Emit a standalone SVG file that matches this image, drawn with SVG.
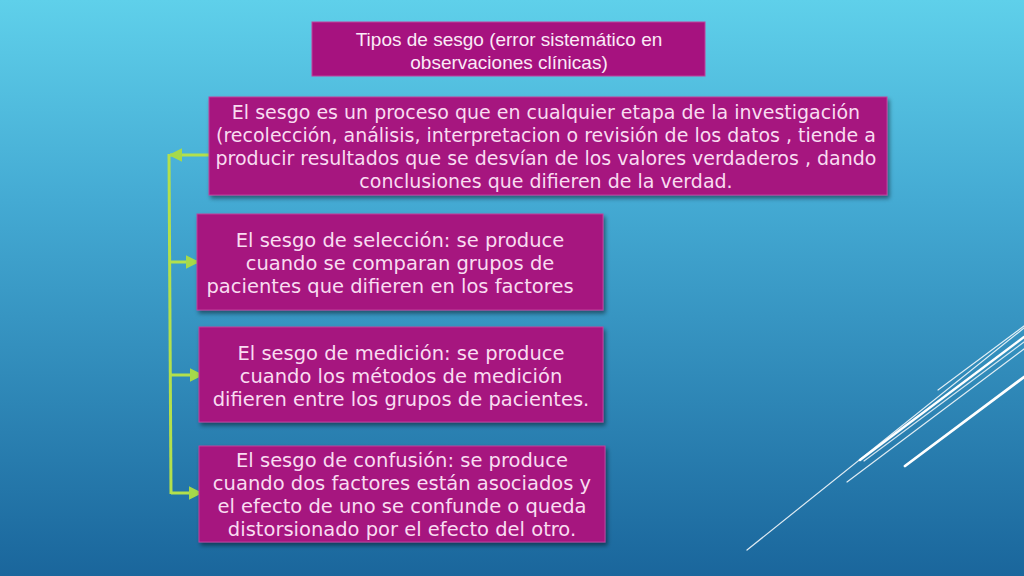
<svg xmlns="http://www.w3.org/2000/svg" width="1024" height="576" viewBox="0 0 1024 576">
<defs>
<linearGradient id="bg" x1="0" y1="0" x2="0" y2="1">
<stop offset="0" stop-color="#5fd0ea"/>
<stop offset="0.35" stop-color="#44aad3"/>
<stop offset="1" stop-color="#1a669c"/>
</linearGradient>
<filter id="sh" x="-5%" y="-10%" width="110%" height="125%">
<feDropShadow dx="2" dy="3" stdDeviation="2" flood-color="#000" flood-opacity="0.45"/>
</filter>
<marker id="ah" viewBox="0 0 10 10" refX="9" refY="5" markerWidth="4.5" markerHeight="4.5" orient="auto" markerUnits="strokeWidth">
<path d="M0,0 L10,5 L0,10 z" fill="#a6d94a"/>
</marker>
</defs>
<style>
.box{fill:#a6127f;stroke:#c0409c;stroke-width:1;filter:url(#sh)}
.t{font-family:"DejaVu Sans",sans-serif;font-size:19.5px;fill:#f9dcf1;text-anchor:middle}
.t1{font-size:19px}
.tt{font-family:"Liberation Sans",Arial,sans-serif;font-size:19px;fill:#fbeaf7;text-anchor:middle}
.c{stroke:#b3e04c;stroke-width:3;fill:none}
.dl{stroke:#ffffff;fill:none;stroke-linecap:round}
</style>
<rect width="1024" height="576" fill="url(#bg)"/>
<g id="decor">
<line class="dl" x1="747" y1="550" x2="1024" y2="328" stroke-width="1.2" stroke-opacity="0.85"/>
<line class="dl" x1="938" y1="390" x2="1024" y2="326" stroke-width="1.2" stroke-opacity="0.85"/>
<line class="dl" x1="860" y1="460" x2="1024" y2="337" stroke-width="2.5"/>
<line class="dl" x1="864" y1="461" x2="1024" y2="342" stroke-width="1.2" stroke-opacity="0.8"/>
<line class="dl" x1="847" y1="482" x2="1024" y2="349" stroke-width="1.2" stroke-opacity="0.85"/>
<line class="dl" x1="905" y1="466" x2="1024" y2="377" stroke-width="2.8"/>
</g>
<g id="title">
<rect x="312" y="22" width="393" height="54" fill="#a6127f" stroke="#c0409c" stroke-width="1"/>
<text class="tt" x="509" y="46">Tipos de sesgo (error sistemático en</text>
<text class="tt" x="509" y="69">observaciones clínicas)</text>
</g>
<g id="connectors">
<line class="c" x1="169" y1="154" x2="171" y2="494"/>
<line class="c" x1="209" y1="155" x2="170" y2="155" marker-end="url(#ah)"/>
<line class="c" x1="169" y1="262" x2="198" y2="262" marker-end="url(#ah)"/>
<line class="c" x1="170" y1="375" x2="202" y2="375" marker-end="url(#ah)"/>
<line class="c" x1="171" y1="493" x2="201" y2="493" marker-end="url(#ah)"/>
</g>
<g id="n1">
<rect class="box" x="209" y="97" width="678" height="98"/>
<text class="t t1" x="546" y="119">El sesgo es un proceso que en cualquier etapa de la investigación</text>
<text class="t t1" x="546" y="142">(recolección, análisis, interpretacion o revisión de los datos , tiende a</text>
<text class="t t1" x="546" y="165">producir resultados que se desvían de los valores verdaderos , dando</text>
<text class="t t1" x="546" y="188">conclusiones que difieren de la verdad.</text>
</g>
<g id="n2">
<rect class="box" x="197" y="214" width="406" height="96"/>
<text class="t" x="400" y="247">El sesgo de selección: se produce</text>
<text class="t" x="400" y="270">cuando se comparan grupos de</text>
<text class="t" x="390" y="293">pacientes que difieren en los factores</text>
</g>
<g id="n3">
<rect class="box" x="199" y="327" width="404" height="95"/>
<text class="t" x="401" y="360">El sesgo de medición: se produce</text>
<text class="t" x="401" y="383">cuando los métodos de medición</text>
<text class="t" x="401" y="406">difieren entre los grupos de pacientes.</text>
</g>
<g id="n4">
<rect class="box" x="199" y="446" width="406" height="96"/>
<text class="t" x="402" y="467">El sesgo de confusión: se produce</text>
<text class="t" x="402" y="490">cuando dos factores están asociados y</text>
<text class="t" x="402" y="513">el efecto de uno se confunde o queda</text>
<text class="t" x="402" y="536">distorsionado por el efecto del otro.</text>
</g>
</svg>
